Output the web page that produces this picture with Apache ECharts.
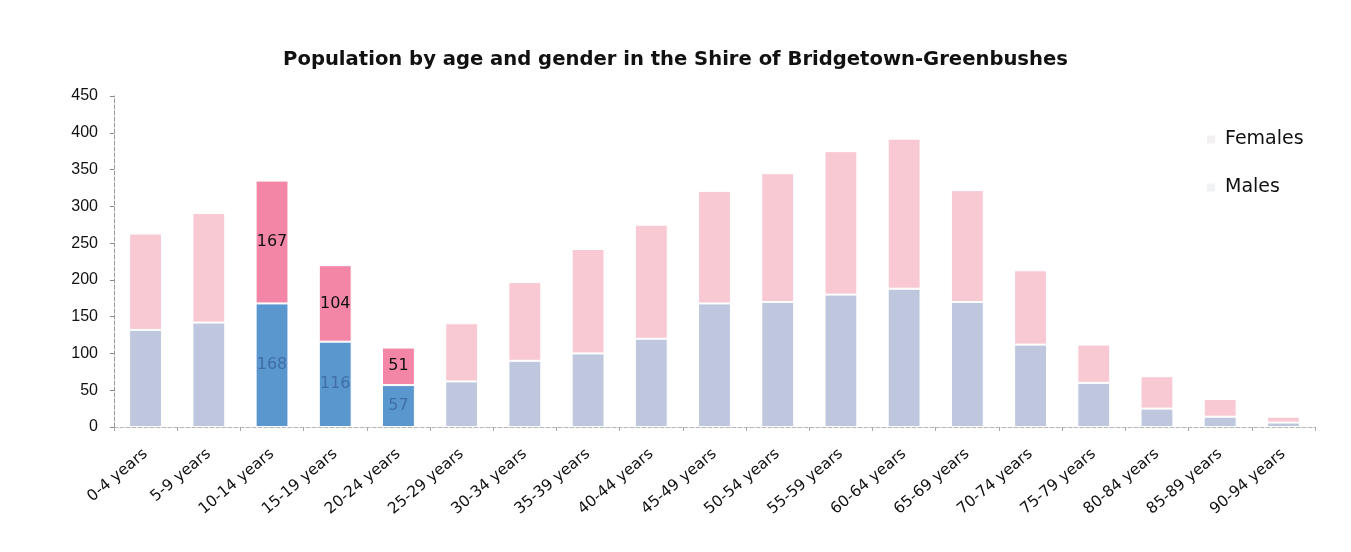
<!DOCTYPE html>
<html>
<head>
<meta charset="utf-8">
<script src="https://cdn.jsdelivr.net/npm/echarts@6/dist/echarts.min.js"></script>
<style>
  html, body { margin: 0; padding: 0; background: #fff; }
  #chart { width: 1351px; height: 552px; }
</style>
</head>
<body>
<div id="chart"></div>
<script>
// age groups
var categories = ['0-4 years', '5-9 years', '10-14 years', '15-19 years', '20-24 years',
  '25-29 years', '30-34 years', '35-39 years', '40-44 years', '45-49 years', '50-54 years',
  '55-59 years', '60-64 years', '65-69 years', '70-74 years', '75-79 years', '80-84 years',
  '85-89 years', '90-94 years'];
var males   = [132, 142, 168, 116, 57, 62, 90, 100, 120, 168, 170, 180, 188, 170, 112, 60, 25, 14, 6];
var females = [131, 149, 167, 104, 51, 79, 107, 142, 155, 153, 175, 195, 204, 152, 101, 52, 44, 24, 8];
// groups shown in strong colour with labels
var highlighted = [2, 3, 4];
var yTicks = [0, 50, 100, 150, 200, 250, 300, 350, 400, 450];

var fontMain = '"DejaVu Sans", Lato, sans-serif';

function buildData(values, strong, faded, labelColor) {
  return values.map(function (v, i) {
    var on = highlighted.indexOf(i) >= 0;
    return {
      value: v,
      itemStyle: { color: on ? strong : faded },
      label: { show: on, color: labelColor }
    };
  });
}

var chart = echarts.init(document.getElementById('chart'));
chart.setOption({
  animation: false,
  title: {
    text: 'Population by age and gender in the Shire of Bridgetown-Greenbushes',
    left: 'center',
    top: 45,
    textStyle: { fontFamily: fontMain, fontWeight: 'bold', fontSize: 19.6, color: '#111' }
  },
  legend: {
    orient: 'vertical',
    left: 1200,
    top: 125,
    itemGap: 29,
    itemWidth: 10,
    itemHeight: 10,
    icon: 'rect',
    data: ['Females', 'Males'],
    textStyle: { fontFamily: fontMain, fontSize: 19, color: '#111', padding: [0, 0, 0, 4] }
  },
  grid: { left: 114, right: 36, top: 96, bottom: 125 },
  xAxis: {
    type: 'category',
    data: categories,
    axisLine: { lineStyle: { color: '#b8b8b8', type: 'dashed' } },
    axisTick: { show: true, length: 4, lineStyle: { color: '#aaa' } },
    axisLabel: {
      interval: 0,
      rotate: 40,
      margin: 25,
      fontFamily: fontMain,
      fontSize: 15.5,
      color: '#111'
    }
  },
  yAxis: {
    type: 'value',
    min: 0,
    max: yTicks[yTicks.length - 1],
    interval: yTicks[1] - yTicks[0],
    splitLine: { show: false },
    axisLine: { show: true, lineStyle: { color: '#9a9a9a', type: 'dashed' } },
    axisTick: { show: true, length: 4, lineStyle: { color: '#888' } },
    axisLabel: { fontFamily: 'Arial, "Liberation Sans", sans-serif', fontSize: 16, color: '#111', margin: 16 }
  },
  series: [
    {
      name: 'Males',
      type: 'bar',
      stack: 'pop',
      barWidth: '52%',
      color: '#f0f2f6',
      itemStyle: { borderColor: '#fff', borderWidth: 1 },
      label: { position: 'inside', fontFamily: fontMain, fontSize: 16 },
      data: buildData(males, '#5b97cf', '#bec7de', '#3f6fa6')
    },
    {
      name: 'Females',
      type: 'bar',
      stack: 'pop',
      barWidth: '52%',
      color: '#f4f0f1',
      itemStyle: { borderColor: '#fff', borderWidth: 1 },
      label: { position: 'inside', fontFamily: fontMain, fontSize: 16 },
      data: buildData(females, '#f386a6', '#f8c8d3', '#111')
    }
  ]
});
</script>
</body>
</html>
